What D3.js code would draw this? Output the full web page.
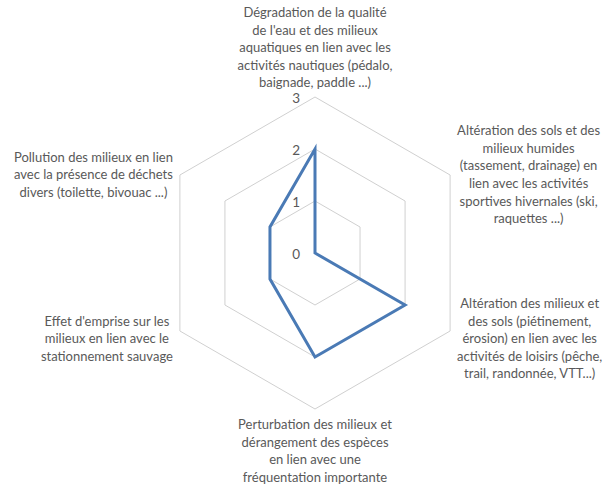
<!DOCTYPE html>
<html>
<head>
<meta charset="utf-8">
<script src="https://cdn.jsdelivr.net/npm/d3@7"></script>
<style>
  body { margin: 0; background: #fff; }
  svg text { font-family: Lato, "Open Sans", sans-serif; fill: #595959; }
</style>
</head>
<body>
<svg id="chart"></svg>
<script>
const width = 605, height = 489;
const cx = 315, cy = 253, outerR = 156;

// axis labels, one entry per line
const categories = [
	["Dégradation de la qualité", "de l'eau et des milieux", "aquatiques en lien avec les", "activités nautiques (pédalo,", "baignade, paddle ...)"],
	["Altération des sols et des", "milieux humides", "(tassement, drainage) en", "lien avec les activités", "sportives hivernales (ski,", "raquettes ...)"],
	["Altération des milieux et", "des sols (piétinement,", "érosion) en lien avec les", "activités de loisirs (pêche,", "trail, randonnée, VTT...)"],
	["Perturbation des milieux et", "dérangement des espèces", "en lien avec une", "fréquentation importante"],
	["Effet d'emprise sur les", "milieux en lien avec le", "stationnement sauvage"],
	["Pollution des milieux en lien", "avec la présence de déchets", "divers (toilette, bivouac ...)"]
];
const values = [2, 0, 2, 2, 1, 1];
const ticks = [0, 1, 2, 3];

const svg = d3.select('#chart')
	.attr('width', width)
	.attr('height', height);

const g = svg.append('g')
	.attr('transform', `translate(${cx},${cy})`);

const rScale = d3.scaleLinear()
	.domain([0, 3])
	.range([0, outerR]);

const angle = d3.scaleLinear()
	.domain([0, categories.length])
	.range([0, 2 * Math.PI]);

// grid hexagons
const ring = d3.lineRadial()
	.angle((d, i) => angle(i))
	.radius(d => rScale(d))
	.curve(d3.curveLinearClosed);

g.selectAll('.grid')
	.data(ticks.filter(t => t > 0))
	.enter()
	.append('path')
	.attr('class', 'grid')
	.attr('d', t => ring(categories.map(() => t)))
	.attr('fill', 'none')
	.attr('stroke', '#d0d0d0')
	.attr('stroke-width', 1);

// tick labels along the top axis
g.selectAll('.tick-label')
	.data(ticks)
	.enter()
	.append('text')
	.attr('class', 'tick-label')
	.attr('x', -15)
	.attr('y', t => -rScale(t) + 6)
	.attr('text-anchor', 'end')
	.attr('font-size', 13.5)
	.text(t => t);

// data series
g.append('path')
	.datum(values)
	.attr('d', ring)
	.attr('fill', 'none')
	.attr('stroke', '#4a7ab5')
	.attr('stroke-width', 3)
	.attr('stroke-linejoin', 'miter');

// category labels
const lineH = 17.6, gap = 7;
categories.forEach((lines, i) => {
	const a = angle(i) - Math.PI / 2;
	const vx = Math.cos(a) * outerR, vy = Math.sin(a) * outerR;
	const t = g.append('text')
		.attr('font-size', 13)
		.attr('text-anchor', 'middle');
	lines.forEach((l, j) => {
		t.append('tspan').attr('x', 0).attr('y', j * lineH).text(l);
	});
	const w = d3.max(t.selectAll('tspan').nodes(), n => n.getComputedTextLength());
	const blockH = lines.length * lineH;
	let x, y;
	if (Math.abs(Math.cos(a)) < 0.01) {
		x = vx;
		y = Math.sin(a) < 0 ? vy - 5 - blockH + 13 : vy + gap + 13;
	} else {
		x = Math.cos(a) > 0 ? vx + gap + w / 2 : vx - gap - w / 2;
		y = vy - blockH / 2 + 13 + (Math.sin(a) > 0 ? 8 : 0);
	}
	t.attr('transform', `translate(${x},${y})`);
});
</script>
</body>
</html>
